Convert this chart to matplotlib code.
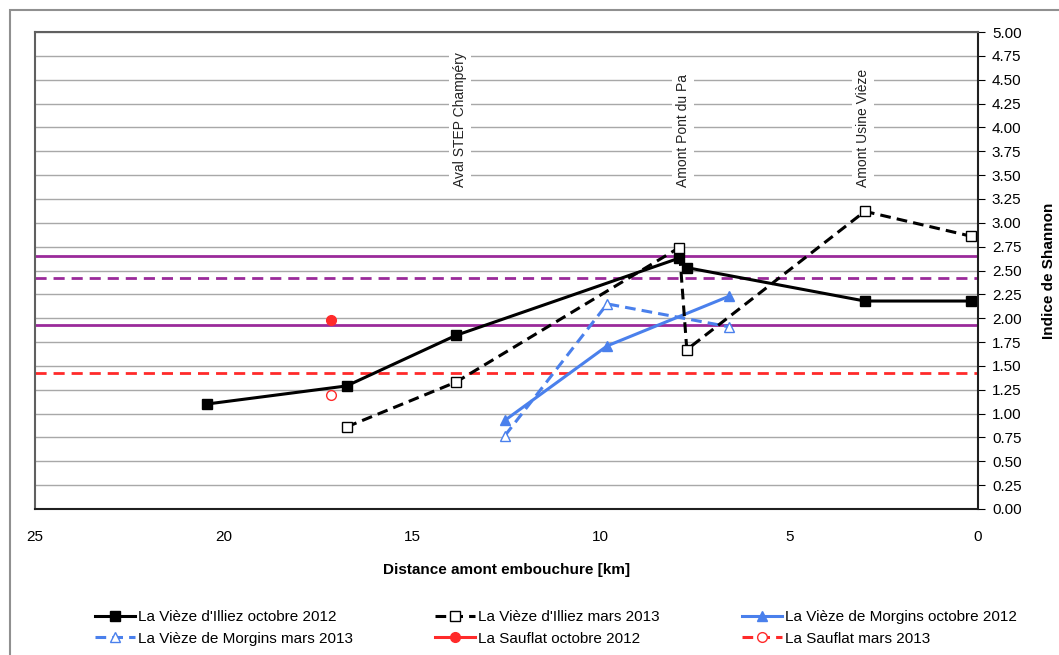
import matplotlib.pyplot as plt
from matplotlib.patches import Rectangle

plt.rcParams['font.family'] = ['Liberation Sans Narrow', 'Liberation Sans', 'DejaVu Sans']

# La Vièze d'Illiez
illiez_oct_x = [20.45, 16.74, 13.84, 7.92, 7.72, 3.0, 0.19]
illiez_oct_y = [1.10, 1.29, 1.82, 2.63, 2.53, 2.18, 2.18]
illiez_mar_x = [16.74, 13.84, 7.92, 7.72, 3.0, 0.19]
illiez_mar_y = [0.86, 1.33, 2.74, 1.67, 3.12, 2.86]

# La Vièze de Morgins
morgins_oct_x = [12.54, 9.83, 6.6]
morgins_oct_y = [0.93, 1.71, 2.23]
morgins_mar_x = [12.54, 9.83, 6.6]
morgins_mar_y = [0.77, 2.15, 1.91]

# La Sauflat
sauflat_oct_x = [17.15]
sauflat_oct_y = [1.98]
sauflat_mar_x = [17.15]
sauflat_mar_y = [1.19]

# reference levels
purple_solid = [2.65, 1.93]
purple_dashed = [2.42]
red_dashed = [1.43]

# site labels
sites = ["Aval STEP Champéry", "Amont Pont du Pa", "Amont Usine Vièze"]
sites_x = [13.73, 7.82, 3.05]

purple = '#9a2a9a'
red = '#ff2a2a'
blue = '#4a80ec'

fig = plt.figure(figsize=(10.59, 6.55), dpi=100)
fig.patches.append(Rectangle((10 / 1059, -0.1), 1.2, 1 - 10 / 655 + 0.1,
                             transform=fig.transFigure, fill=False,
                             edgecolor='#909090', linewidth=1.5))
ax = fig.add_axes([35 / 1059, 1 - 509 / 655, (978 - 35) / 1059, (509 - 32) / 655])

for v in purple_solid:
    ax.axhline(v, color=purple, lw=2, zorder=2)
for v in purple_dashed:
    ax.axhline(v, color=purple, lw=2, ls=(0, (4, 2.5)), zorder=2)
for v in red_dashed:
    ax.axhline(v, color=red, lw=2, ls=(0, (4, 2.5)), zorder=2)

h1, = ax.plot(illiez_oct_x, illiez_oct_y, color='black', lw=2.2, marker='s', ms=7,
              mfc='black', mec='black', label="La Vièze d'Illiez octobre 2012", zorder=4)
h2, = ax.plot(illiez_mar_x, illiez_mar_y, color='black', lw=2.2, ls=(0, (3.5, 2)), marker='s', ms=7.5,
              mfc='white', mec='black', mew=1, label="La Vièze d'Illiez mars 2013", zorder=5)
h3, = ax.plot(morgins_oct_x, morgins_oct_y, color=blue, lw=2.2, marker='^', ms=7,
              mfc=blue, mec=blue, label="La Vièze de Morgins octobre 2012", zorder=4)
h4, = ax.plot(morgins_mar_x, morgins_mar_y, color=blue, lw=2.2, ls=(0, (3.5, 2)), marker='^', ms=7,
              mfc='white', mec=blue, mew=1, label="La Vièze de Morgins mars 2013", zorder=4)
h5, = ax.plot(sauflat_oct_x, sauflat_oct_y, color=red, lw=2.2, marker='o', ms=7,
              mfc=red, mec=red, label="La Sauflat octobre 2012", zorder=4)
h6, = ax.plot(sauflat_mar_x, sauflat_mar_y, color=red, lw=2.2, ls=(0, (3.5, 2)), marker='o', ms=7,
              mfc='white', mec=red, mew=1, label="La Sauflat mars 2013", zorder=4)

for label, x in zip(sites, sites_x):
    ax.text(x, 3.38, label, rotation=90, ha='center', va='bottom', fontsize=10,
            family=['Liberation Sans', 'DejaVu Sans'], color='#222222',
            bbox=dict(facecolor='white', edgecolor='none', pad=3), zorder=3)

ax.set_xlim(25, 0)
ax.set_ylim(0, 5)
ax.set_xticks([25, 20, 15, 10, 5, 0])
ax.set_yticks([i * 0.25 for i in range(21)])
ax.set_yticklabels([f"{i * 0.25:.2f}" for i in range(21)])
ax.yaxis.tick_right()
ax.yaxis.set_label_position('right')
ax.grid(axis='y', color='#a8a8a8', lw=1, zorder=1)
ax.set_axisbelow(True)
ax.tick_params(axis='y', direction='out', length=5, labelsize=11, pad=5)
ax.tick_params(axis='x', length=0, labelsize=11, pad=15)
for side in ['top', 'left']:
    ax.spines[side].set_color('#606060')
    ax.spines[side].set_linewidth(1.5)
for side in ['right', 'bottom']:
    ax.spines[side].set_color('#202020')
    ax.spines[side].set_linewidth(1.5)

ax.set_xlabel("Distance amont embouchure [km]", fontsize=11, fontweight='bold', labelpad=14)
ax.set_ylabel("Indice de Shannon", fontsize=11, fontweight='bold', labelpad=15)

handles = [h1, h4, h2, h5, h3, h6]
fig.legend(handles=handles, labels=[h.get_label() for h in handles], ncol=3,
           loc='center', bbox_to_anchor=(0.525, 1 - 628 / 655), frameon=False,
           fontsize=11, handlelength=2.6, handletextpad=0.2, columnspacing=5.4,
           labelspacing=0.5)

fig.savefig('out.png', dpi=100)
